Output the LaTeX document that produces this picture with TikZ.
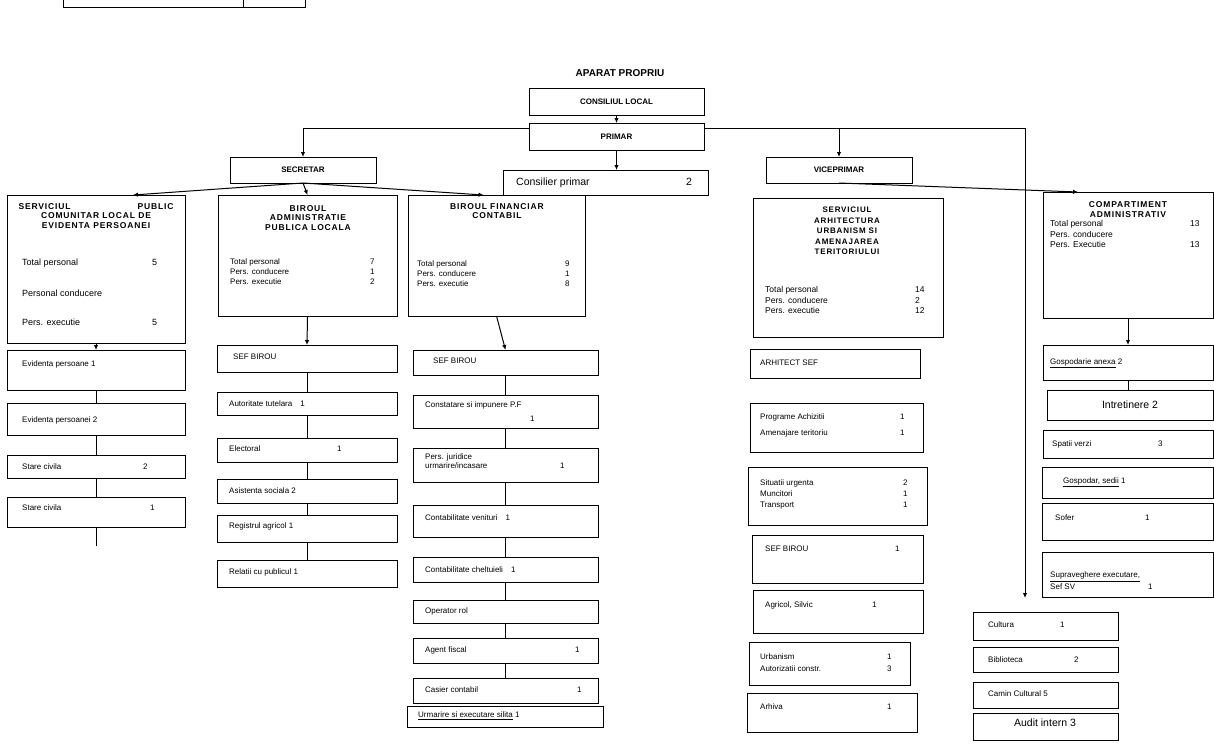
\documentclass[tikz,border=0pt]{standalone}
\usepackage{fontspec}
\setmainfont{Liberation Sans}
\newfontfamily\widefont[LetterSpace=10]{Liberation Sans}
\usetikzlibrary{arrows.meta,calc}
\newcommand\lab[2]{\makebox[#1pt][l]{#2}}
\newcommand\bx[6][]{%
  \pgfmathsetmacro\bxw{#5-#3}\pgfmathsetmacro\bxh{#6-#4}%
  \node[box,minimum width=\bxw pt,minimum height=\bxh pt,#1] (#2) at ({(#3+#5)/2},{(#4+#6)/2}) {};}
\tikzset{
  box/.style={draw,line width=1pt,inner sep=0pt,outer sep=0pt},
  txt/.style={inner sep=0pt,anchor=west,align=left,font=\fontsize{8}{10}\selectfont},
  hdr/.style={inner sep=0pt,align=center,font=\widefont\bfseries\fontsize{8.5}{9.5}\selectfont},
  big/.style={inner sep=0pt,anchor=west,font=\fontsize{10.5}{12}\selectfont},
  conn/.style={line width=1pt},
  arr/.style={line width=1pt,-{Latex[length=5pt,width=4.5pt]}},
}
\begin{document}
\begin{tikzpicture}[x=1pt,y=-1pt]
\useasboundingbox (0,0) rectangle (1214,747);
% cut box at the top
\bx{topbox}{63}{-8}{305}{7}
\coordinate (div) at (243,0);
\draw[conn] (topbox.north -| div) -- (topbox.south -| div);
% title
\node[font=\bfseries\fontsize{10}{12}\selectfont] (title) at (620,73) {APARAT PROPRIU};
% top level
\bx{cl}{529}{88}{704}{115}
\node[hdr,font=\bfseries\fontsize{8}{9}\selectfont] (cl-t) at (cl) {CONSILIUL LOCAL};
\bx{primar}{529}{123}{704}{150}
\node[hdr,font=\bfseries\fontsize{8}{9}\selectfont] (primar-t) at (primar) {PRIMAR};
\bx{secretar}{230}{157}{376}{183}
\node[hdr,font=\bfseries\fontsize{8}{9}\selectfont] (secretar-t) at (secretar) {SECRETAR};
\bx{consilier}{503}{170}{708}{195}
\node[big] (consilier-t) at (516,183) {\lab{170}{Consilier primar}2};
\bx{viceprimar}{766}{157}{912}{183}
\node[hdr,font=\bfseries\fontsize{8}{9}\selectfont] (viceprimar-t) at (viceprimar) {VICEPRIMAR};
\coordinate (lc) at (303,128);
\coordinate (rc) at (1025,128);
\coordinate (rend) at (1025,598);
\draw[arr] (cl.south) -- (primar.north);
\draw[arr] (primar.west |- lc) -- (lc) -- (lc |- secretar.north);
\draw[arr] (primar.east |- rc) -- (rc) -- (rend);
\draw[arr] (viceprimar.north |- rc) -- (viceprimar.north);
\draw[arr] (primar.south) -- (primar.south |- consilier.north);
% level 2 boxes
\bx{spclep}{7}{195}{185}{343}
\node[hdr] (spclep-h) at (96,216) {\makebox[155pt][s]{SERVICIUL\hfill PUBLIC}\\COMUNITAR LOCAL DE\\EVIDENTA PERSOANEI};
\node[txt,font=\fontsize{9}{10}\selectfont] (spclep-1) at (22,263) {\lab{130}{Total personal}5};
\node[txt,font=\fontsize{9}{10}\selectfont] (spclep-2) at (22,293) {Personal conducere};
\node[txt,font=\fontsize{9}{10}\selectfont] (spclep-3) at (22,322) {\lab{130}{Pers. executie}5};

\bx{birouadm}{218}{195}{397}{316}
\node[hdr] (birouadm-h) at (308,218) {BIROUL\\ADMINISTRATIE\\PUBLICA LOCALA};
\node[txt] (birouadm-1) at (230,262) {\lab{140}{Total personal}7};
\node[txt] (birouadm-2) at (230,272) {\lab{140}{Pers. conducere}1};
\node[txt] (birouadm-3) at (230,282) {\lab{140}{Pers. executie}2};

\bx{birfin}{408}{195}{585}{316}
\node[hdr] (birfin-h) at (497,211) {BIROUL FINANCIAR\\CONTABIL};
\node[txt] (birfin-1) at (417,264) {\lab{148}{Total personal}9};
\node[txt] (birfin-2) at (417,274) {\lab{148}{Pers. conducere}1};
\node[txt] (birfin-3) at (417,284) {\lab{148}{Pers. executie}8};

\bx{servarh}{753}{198}{943}{337}
\node[hdr,font=\widefont\bfseries\fontsize{8}{10.5}\selectfont] (servarh-h) at (847,231) {SERVICIUL\\ARHITECTURA\\URBANISM SI\\AMENAJAREA\\TERITORIULUI};
\node[txt,font=\fontsize{8.5}{9}\selectfont] (servarh-1) at (765,290) {\lab{150}{Total personal}14};
\node[txt,font=\fontsize{8.5}{9}\selectfont] (servarh-2) at (765,300) {\lab{150}{Pers. conducere}2};
\node[txt,font=\fontsize{8.5}{9}\selectfont] (servarh-3) at (765,310) {\lab{150}{Pers. executie}12};

\bx{comp}{1043}{192}{1213}{318}
\node[hdr,font=\widefont\bfseries\fontsize{8.5}{10}\selectfont] (comp-h) at (1128,210) {COMPARTIMENT\\ADMINISTRATIV};
\node[txt,font=\fontsize{8.5}{9}\selectfont] (comp-1) at (1050,224) {\lab{140}{Total personal}13};
\node[txt,font=\fontsize{8.5}{9}\selectfont] (comp-2) at (1050,234) {Pers. conducere};
\node[txt,font=\fontsize{8.5}{9}\selectfont] (comp-3) at (1050,244) {\lab{140}{Pers. Executie}13};

\draw[arr] (secretar.south) -- ($(spclep.north)+(37,0)$);
\draw[arr] (secretar.south) -- (birouadm.north);
\draw[arr] (secretar.south) -- ($(birfin.north)+(-13,0)$);
\draw[arr] (viceprimar.south) -- ($(comp.north west)+(35,0)$);

% column 1
\bx{ev1}{7}{350}{185}{390}
\node[txt] (ev1-t) at (22,364) {Evidenta persoane 1};
\bx{ev2}{7}{403}{185}{435}
\node[txt] (ev2-t) at (22,420) {Evidenta persoanei 2};
\bx{sc1}{7}{455}{185}{478}
\node[txt] (sc1-t) at (22,467) {\lab{121}{Stare civila}2};
\bx{sc2}{7}{497}{185}{527}
\node[txt] (sc2-t) at (22,508) {\lab{128}{Stare civila}1};
\coordinate (sc2tail) at (96,546);
\draw[arr] (spclep.south) -- (ev1.north);
\foreach \a/\b in {ev1/ev2,ev2/sc1,sc1/sc2} \draw[conn] (\a.south) -- (\b.north);
\draw[conn] (sc2.south) -- (sc2tail);

% column 2
\bx{sef1}{217}{345}{397}{372}
\node[txt] (sef1-t) at (233,357) {SEF BIROU};
\bx{aut}{217}{392}{397}{415}
\node[txt] (aut-t) at (229,404) {Autoritate tutelara\quad 1};
\bx{elec}{217}{438}{397}{462}
\node[txt] (elec-t) at (229,449) {\lab{108}{Electoral}1};
\bx{asist}{217}{479}{397}{503}
\node[txt] (asist-t) at (229,491) {Asistenta sociala 2};
\bx{reg}{217}{515}{397}{542}
\node[txt] (reg-t) at (229,526) {Registrul agricol 1};
\bx{rel}{217}{560}{397}{587}
\node[txt] (rel-t) at (229,572) {Relatii cu publicul 1};
\draw[arr] (birouadm.south) -- (sef1.north);
\foreach \a/\b in {sef1/aut,aut/elec,elec/asist,asist/reg,reg/rel} \draw[conn] (\a.south) -- (\b.north);

% column 3
\bx{sef2}{413}{350}{598}{375}
\node[txt] (sef2-t) at (433,361) {SEF BIROU};
\bx{constat}{413}{395}{598}{428}
\node[txt] (constat-t) at (425,405) {Constatare si impunere P.F};
\node[txt] (constat-n) at (530,419) {1};
\bx{pj}{413}{448}{598}{482}
\node[txt,font=\fontsize{8}{9.5}\selectfont] (pj-t) at (425,461) {Pers. juridice\\\lab{135}{urmarire/incasare}1};
\bx{cv}{413}{505}{598}{537}
\node[txt] (cv-t) at (425,518) {Contabilitate venituri\quad 1};
\bx{cc}{413}{557}{598}{582}
\node[txt] (cc-t) at (425,570) {Contabilitate cheltuieli\quad 1};
\bx{op}{413}{600}{598}{623}
\node[txt] (op-t) at (425,611) {Operator rol};
\bx{ag}{413}{638}{598}{663}
\node[txt] (ag-t) at (425,650) {\lab{150}{Agent fiscal}1};
\bx{cas}{413}{678}{598}{703}
\node[txt] (cas-t) at (425,690) {\lab{152}{Casier contabil}1};
\bx{urm}{407}{706}{603}{727}
\node[txt] (urm-t) at (418,716) {\underline{Urmarire si executare silita} 1};
\draw[arr] (birfin.south) -- (sef2.north);
\foreach \a/\b in {sef2/constat,constat/pj,pj/cv,cv/cc,cc/op,op/ag,ag/cas} \draw[conn] (\a.south) -- (\b.north);

% column arhitectura
\bx{arhsef}{750}{349}{920}{378}
\node[txt] (arhsef-t) at (760,363) {ARHITECT SEF};
\bx{prog}{750}{403}{923}{452}
\node[txt] (prog-t1) at (760,417) {\lab{140}{Programe Achizitii}1};
\node[txt] (prog-t2) at (760,433) {\lab{140}{Amenajare teritoriu}1};
\bx{sit}{748}{467}{927}{525}
\node[txt,font=\fontsize{8}{11}\selectfont] (sit-t) at (760,494) {\lab{143}{Situatii urgenta}2\\\lab{143}{Muncitori}1\\\lab{143}{Transport}1};
\bx{sefb3}{752}{535}{923}{583}
\node[txt] (sefb3-t) at (765,549) {\lab{130}{SEF BIROU}1};
\bx{agr}{753}{590}{923}{633}
\node[txt] (agr-t) at (765,605) {\lab{107}{Agricol, Silvic}1};
\bx{urb}{749}{642}{910}{685}
\node[txt,font=\fontsize{8}{12}\selectfont] (urb-t) at (760,663) {\lab{127}{Urbanism}1\\\lab{127}{Autorizatii constr.}3};
\bx{arhiva}{747}{693}{917}{732}
\node[txt] (arhiva-t) at (760,707) {\lab{127}{Arhiva}1};

% column compartiment
\bx{gosp}{1043}{345}{1213}{380}
\node[txt] (gosp-t) at (1050,363) {\underline{Gospodarie anexa} 2};
\bx{intr}{1047}{390}{1213}{420}
\node[big,anchor=center] (intr-t) at (1130,405) {Intretinere 2};
\bx{spv}{1043}{430}{1213}{458}
\node[txt] (spv-t) at (1052,444) {\lab{106}{Spatii verzi}3};
\bx{sedii}{1042}{467}{1213}{498}
\node[txt] (sedii-t) at (1063,482) {\underline{Gospodar, sedii} 1};
\bx{sofer}{1042}{503}{1213}{540}
\node[txt] (sofer-t) at (1055,518) {\lab{90}{Sofer}1};
\bx{supr}{1042}{552}{1213}{597}
\node[txt,font=\fontsize{8}{12}\selectfont] (supr-t) at (1050,581) {\underline{Supraveghere executare,}\\\lab{98}{Sef SV}1};
\draw[arr] (comp.south) -- (gosp.north);
\draw[conn] (gosp.south) -- (gosp.south |- intr.north);

% cultura group
\bx{cult}{973}{612}{1118}{640}
\node[txt] (cult-t) at (988,625) {\lab{72}{Cultura}1};
\bx{bib}{973}{647}{1118}{672}
\node[txt] (bib-t) at (988,660) {\lab{86}{Biblioteca}2};
\bx{camin}{973}{682}{1118}{708}
\node[txt] (camin-t) at (988,694) {Camin Cultural 5};
\bx{audit}{973}{713}{1118}{740}
\node[big,anchor=center] (audit-t) at (1045,723) {Audit intern 3};
\end{tikzpicture}
\end{document}
